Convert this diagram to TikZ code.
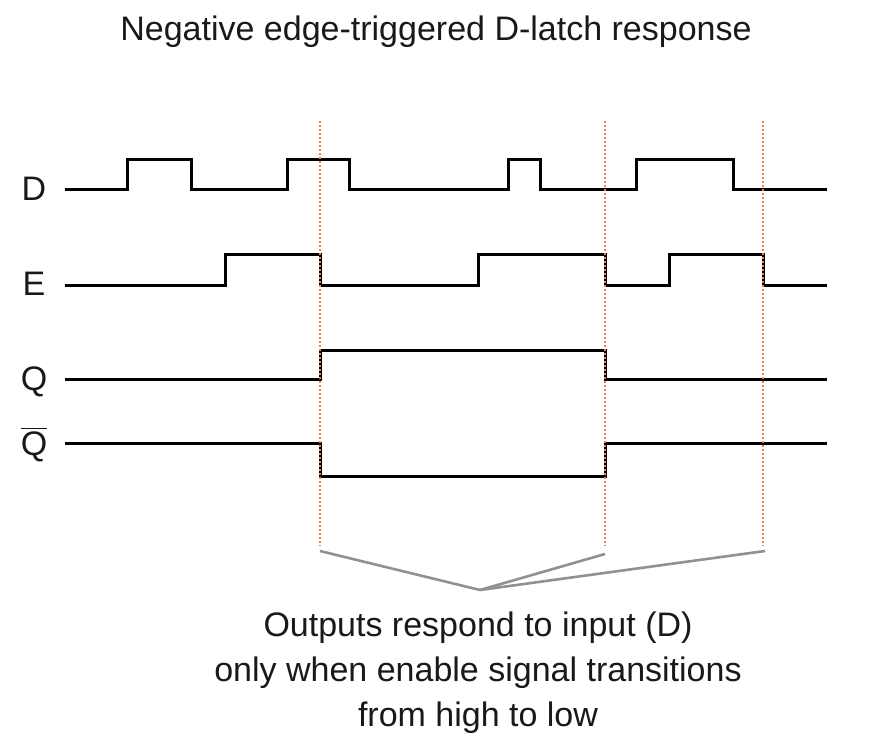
\documentclass[tikz,border=0pt]{standalone}
\usepackage{fontspec}
\setmainfont{Liberation Sans}
\definecolor{edgeorange}{RGB}{238,128,88}
\definecolor{pointergray}{RGB}{145,145,145}
\begin{document}
\begin{tikzpicture}[x=0.5pt,y=-0.5pt,
  sig/.style={line width=1.5pt, line join=miter},
  edgemark/.style={draw=edgeorange, line width=1.1pt, dash pattern=on 0.9pt off 1.1pt},
  pointer/.style={draw=pointergray, line width=1.3pt},
  txt/.style={font=\fontsize{17}{22.5}\selectfont, text=black!90, inner sep=0pt}]
  \useasboundingbox (0,0) rectangle (890,744);
  \node[txt, anchor=base] (title) at (436,40) {Negative edge-triggered D-latch response};
  % signal names
  \node[txt, anchor=base] (lblD) at (34,200) {D};
  \node[txt, anchor=base] (lblE) at (34,295) {E};
  \node[txt, anchor=base] (lblQ) at (34,390) {Q};
  \node[txt, anchor=base] (lblQn) at (34,455) {$\overline{\mbox{Q}}$};
  % waveforms
  \draw[sig] (65,189) -- (127,189) -- (127,159) -- (191,159) -- (191,189) -- (287,189) -- (287,159) -- (349,159) -- (349,189)
    -- (508,189) -- (508,159) -- (540,159) -- (540,189) -- (636,189) -- (636,159) -- (733,159) -- (733,189) -- (827,189);
  \draw[sig] (65,285) -- (225,285) -- (225,254) -- (320,254) -- (320,285) -- (478,285) -- (478,254) -- (605,254) -- (605,285)
    -- (669,285) -- (669,254) -- (763,254) -- (763,285) -- (827,285);
  \draw[sig] (65,379) -- (320,379) -- (320,350) -- (605,350) -- (605,379) -- (827,379);
  \draw[sig] (65,443) -- (320,443) -- (320,476) -- (605,476) -- (605,443) -- (827,443);
  % falling edges of E
  \foreach \x/\n in {320/a,605/b,763/c}{
    \draw[edgemark] (\x,121) -- (\x,546);
  }
  \coordinate (tipa) at (320,551);
  \coordinate (tipb) at (605,554);
  \coordinate (tipc) at (765,551);
  \coordinate (apex) at (480,590);
  \node[txt, align=center, anchor=north] (note) at (478,611)
    {Outputs respond to input (D)\\only when enable signal transitions\\from high to low};
  \draw[pointer] (tipa) -- (apex) -- (tipb);
  \draw[pointer] (apex) -- (tipc);
\end{tikzpicture}
\end{document}
